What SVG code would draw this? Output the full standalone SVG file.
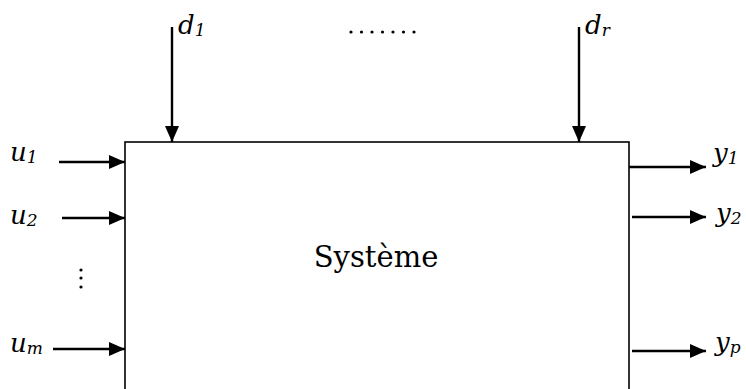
<svg xmlns="http://www.w3.org/2000/svg" width="746" height="389" viewBox="0 0 746 389">
  <style>
    text { font-family: "DejaVu Serif", "Liberation Serif", serif; fill: #000; }
    .lbl { font-style: italic; font-size: 26px; }
    .sub { font-size: 17px; }
    .title { font-size: 29px; }
    .box { fill: #fff; stroke: #000; stroke-width: 1.6; }
    .arrow { stroke: #000; stroke-width: 2.4; fill: none; marker-end: url(#head); }
    .dot { fill: #000; }
  </style>
  <defs>
    <marker id="head" viewBox="0 0 16 14" refX="16" refY="7" markerWidth="16" markerHeight="14" markerUnits="userSpaceOnUse" orient="auto">
      <path d="M0,0 L16,7 L0,14 z" fill="#000"/>
    </marker>
  </defs>
  <rect width="746" height="389" fill="#fff"/>

  <!-- system block (lower edge runs past the frame) -->
  <g id="systeme">
    <rect class="box" x="125" y="142" width="504" height="260"/>
    <text class="title" x="376" y="267" text-anchor="middle">Système</text>
  </g>

  <!-- signal arrows -->
  <g id="connectors">
    <line class="arrow" x1="172" y1="27" x2="172" y2="142"/>
    <line class="arrow" x1="579" y1="27" x2="579" y2="142"/>
    <line class="arrow" x1="59" y1="162" x2="125" y2="162"/>
    <line class="arrow" x1="62" y1="218" x2="125" y2="218"/>
    <line class="arrow" x1="53" y1="349" x2="125" y2="349"/>
    <line class="arrow" x1="629" y1="167" x2="706" y2="167"/>
    <line class="arrow" x1="632" y1="217" x2="706" y2="217"/>
    <line class="arrow" x1="632" y1="351" x2="706" y2="351"/>
  </g>

  <!-- disturbances -->
  <g id="d1"><text class="lbl" x="178" y="34">d<tspan class="sub" dy="2">1</tspan></text></g>
  <g id="dr"><text class="lbl" x="585" y="34">d<tspan class="sub" dy="2">r</tspan></text></g>
  <g id="d-dots">
    <circle class="dot" cx="351" cy="32" r="1.6"/>
    <circle class="dot" cx="361.5" cy="32" r="1.6"/>
    <circle class="dot" cx="372" cy="32" r="1.6"/>
    <circle class="dot" cx="382.5" cy="32" r="1.6"/>
    <circle class="dot" cx="393" cy="32" r="1.6"/>
    <circle class="dot" cx="403.5" cy="32" r="1.6"/>
    <circle class="dot" cx="414" cy="32" r="1.6"/>
  </g>

  <!-- inputs -->
  <g id="u1"><text class="lbl" x="10" y="161">u<tspan class="sub" dy="2">1</tspan></text></g>
  <g id="u2"><text class="lbl" x="10" y="224">u<tspan class="sub" dy="2">2</tspan></text></g>
  <g id="u-dots">
    <circle class="dot" cx="81" cy="270" r="1.6"/>
    <circle class="dot" cx="81" cy="278" r="1.6"/>
    <circle class="dot" cx="81" cy="287" r="1.6"/>
  </g>
  <g id="um"><text class="lbl" x="10" y="352">u<tspan class="sub" dy="2">m</tspan></text></g>

  <!-- outputs -->
  <g id="y1"><text class="lbl" x="713" y="162">y<tspan class="sub" dy="2">1</tspan></text></g>
  <g id="y2"><text class="lbl" x="716" y="222">y<tspan class="sub" dy="2">2</tspan></text></g>
  <g id="yp"><text class="lbl" x="715" y="351">y<tspan class="sub" dy="2">p</tspan></text></g>
</svg>
